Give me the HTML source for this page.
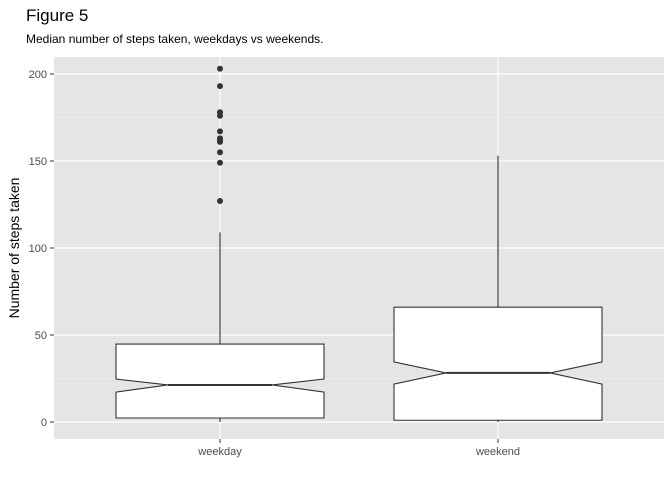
<!DOCTYPE html>
<html><head><meta charset="utf-8"><style>
body{margin:0;background:#fff;font-family:"Liberation Sans",Arial,sans-serif}
</style></head><body>
<svg id="chart" width="672" height="480" xmlns="http://www.w3.org/2000/svg">
<text x="26" y="21" font-size="17" fill="#000">Figure 5</text>
<text x="26" y="43" font-size="12" fill="#000">Median number of steps taken, weekdays vs weekends.</text>
<rect x="54" y="57" width="610" height="382" fill="#e5e5e5"/>
<g id="grid"></g><g id="boxes"></g><g id="axes"></g>
<text transform="translate(19,248) rotate(-90)" text-anchor="middle" font-size="14" fill="#000">Number of steps taken</text>
</svg>
<script>
const categories=["weekday","weekend"];
const q1=[2.3,1];
const medians=[21.3,28.2];
const q3=[44.8,66];
const whiskerLow=[0,0];
const whiskerHigh=[109,153];
const notchLow=[17.2,21.8];
const notchHigh=[24.7,34.5];
const outliersWeekday=[203,193,178,176,167,163,162,161,155,149,127];
const yTicks=[0,50,100,150,200];
const yMinor=[25,75,125,175];
const NS="http://www.w3.org/2000/svg";
const y=v=>422-v*1.74;
const xC=i=>220+i*278;
const bw=104;
function mk(p,t,a){const e=document.createElementNS(NS,t);for(const k in a)e.setAttribute(k,a[k]);p.appendChild(e);return e;}
const grid=document.getElementById('grid'),boxes=document.getElementById('boxes'),axes=document.getElementById('axes');
yMinor.forEach(v=>{const l=mk(grid,'line',{x1:54,x2:664,y1:y(v),y2:y(v),stroke:'#f2f2f2','stroke-width':0.6});

});
yTicks.forEach(v=>{const l=mk(grid,'line',{x1:54,x2:664,y1:y(v),y2:y(v),stroke:'#fff','stroke-width':1.2});


mk(axes,'line',{x1:50,x2:54,y1:y(v),y2:y(v),stroke:'#333'});
const t=mk(axes,'text',{x:47,y:y(v)+4,'text-anchor':'end','font-size':11,fill:'#4d4d4d'});t.textContent=v;

});
categories.forEach((c,i)=>{const cx=xC(i);
const g=mk(grid,'line',{x1:cx,x2:cx,y1:57,y2:439,stroke:'#fff','stroke-width':1.2});


mk(axes,'line',{x1:cx,x2:cx,y1:439,y2:443,stroke:'#333'});
const t=mk(axes,'text',{x:cx,y:455,'text-anchor':'middle','font-size':11,fill:'#4d4d4d'});t.textContent=c;


const w1=mk(boxes,'line',{x1:cx,x2:cx,y1:y(q3[i]),y2:y(whiskerHigh[i]),stroke:'#333','stroke-width':1.1});


const w2=mk(boxes,'line',{x1:cx,x2:cx,y1:y(q1[i]),y2:y(whiskerLow[i]),stroke:'#333','stroke-width':1.1});


const L=cx-bw,R=cx+bw,l2=cx-bw/2,r2=cx+bw/2;
const pts=[[L,y(q3[i])],[R,y(q3[i])],[R,y(notchHigh[i])],[r2,y(medians[i])],[R,y(notchLow[i])],[R,y(q1[i])],[L,y(q1[i])],[L,y(notchLow[i])],[l2,y(medians[i])],[L,y(notchHigh[i])]];
const b=mk(boxes,'polygon',{points:pts.map(p=>p.join(',')).join(' '),fill:'#fff',stroke:'#333','stroke-width':1.1});


const m=mk(boxes,'line',{x1:l2,x2:r2,y1:y(medians[i]),y2:y(medians[i]),stroke:'#333','stroke-width':2});

});
outliersWeekday.forEach(v=>{const d=mk(boxes,'circle',{cx:xC(0),cy:y(v),r:3,fill:'#333'});

});
</script>
</body></html>
